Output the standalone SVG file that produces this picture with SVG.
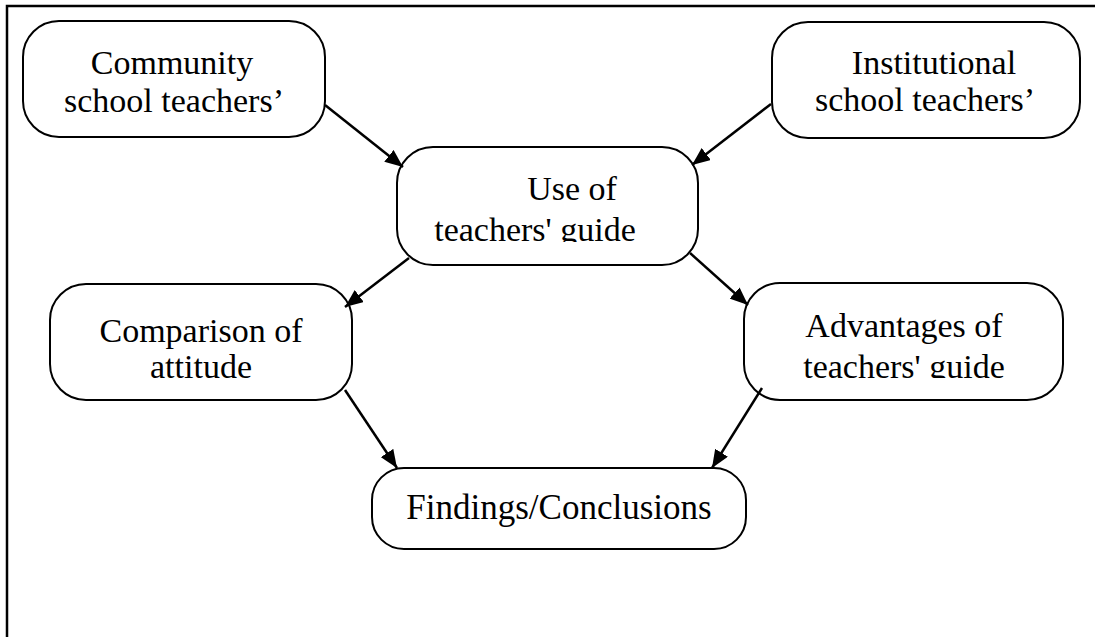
<svg xmlns="http://www.w3.org/2000/svg" width="1095" height="637" viewBox="0 0 1095 637">
  <style>
    .box { fill: #fff; stroke: #000; stroke-width: 2; }
    .lbl { font-family: "Liberation Serif", "Times New Roman", serif; font-size: 34px; fill: #000; text-anchor: middle; }
    .edge { stroke: #000; stroke-width: 2.5; fill: none; marker-end: url(#arrow); }
    .frame { stroke: #000; stroke-width: 2.5; fill: none; }
  </style>
  <defs>
    <marker id="arrow" markerUnits="userSpaceOnUse" markerWidth="19" markerHeight="15" refX="18" refY="7.5" orient="auto">
      <path d="M0,0 L18,7.5 L0,15 Z" fill="#000"/>
    </marker>
    <clipPath id="clipUse"><rect x="397" y="147" width="301" height="95"/></clipPath>
    <clipPath id="clipAdv"><rect x="744" y="283" width="319" height="95"/></clipPath>
  </defs>

  <rect width="1095" height="637" fill="#fff"/>

  <!-- outer frame: top and left edges -->
  <polyline class="frame" points="1095,6 7,6 7,637"/>

  <g id="community">
    <rect class="box" x="23" y="21" width="302" height="116" rx="36"/>
    <text class="lbl" x="172" y="74">Community</text>
    <text class="lbl" x="174" y="112">school teachers’</text>
  </g>

  <g id="institutional">
    <rect class="box" x="772" y="22" width="308" height="116" rx="36"/>
    <text class="lbl" x="934" y="74">Institutional</text>
    <text class="lbl" x="925" y="111">school teachers’</text>
  </g>

  <g id="use-guide">
    <rect class="box" x="397" y="147" width="301" height="118" rx="36"/>
    <text class="lbl" x="572" y="200">Use of</text>
    <text class="lbl" x="535" y="241" clip-path="url(#clipUse)">teachers' guide</text>
  </g>

  <g id="comparison">
    <rect class="box" x="50" y="284" width="302" height="116" rx="36"/>
    <text class="lbl" x="201" y="342">Comparison of</text>
    <text class="lbl" x="201" y="378">attitude</text>
  </g>

  <g id="advantages">
    <rect class="box" x="744" y="283" width="319" height="117" rx="36"/>
    <text class="lbl" x="904" y="337">Advantages of</text>
    <text class="lbl" x="904" y="378" clip-path="url(#clipAdv)">teachers' guide</text>
  </g>

  <g id="findings">
    <rect class="box" x="372" y="468" width="374" height="81" rx="32"/>
    <text class="lbl" x="559" y="519" style="font-size:35px">Findings/Conclusions</text>
  </g>

  <g id="connectors">
    <line class="edge" x1="325" y1="105" x2="403" y2="167"/>
    <line class="edge" x1="771" y1="104" x2="692" y2="165"/>
    <line class="edge" x1="409" y1="258" x2="345" y2="307"/>
    <line class="edge" x1="690" y1="253" x2="748" y2="305"/>
    <line class="edge" x1="345" y1="390" x2="397" y2="468"/>
    <line class="edge" x1="762" y1="388" x2="712" y2="468"/>
  </g>
</svg>
